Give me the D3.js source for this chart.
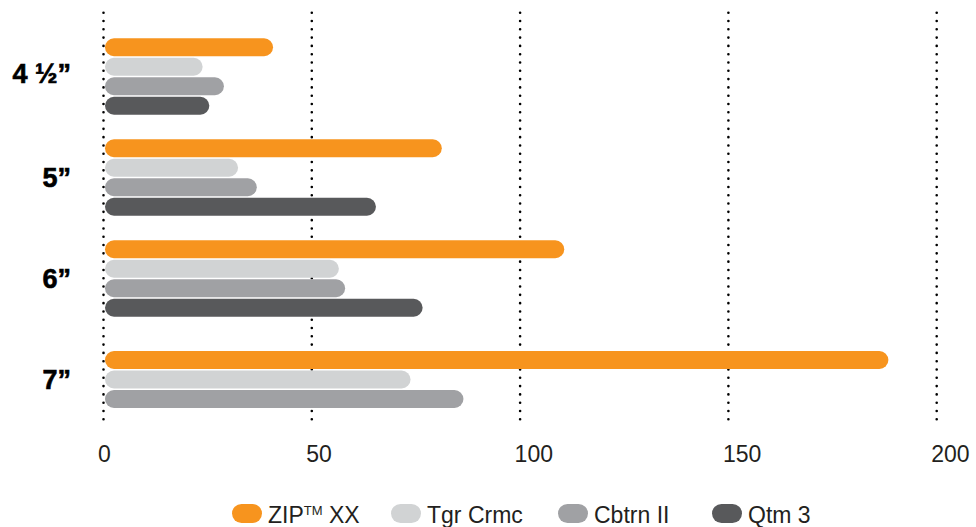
<!DOCTYPE html>
<html>
<head>
<meta charset="utf-8">
<script src="https://cdn.jsdelivr.net/npm/d3@7"></script>
<style>
  html, body { margin: 0; padding: 0; background: #fff; }
  svg { display: block; }
  text { font-family: "Liberation Sans", Arial, Helvetica, sans-serif; }
</style>
</head>
<body>
<svg id="chart" width="976" height="527"></svg>
<script>
// ---- data ----
const categories = ["4 ½”", "5”", "6”", "7”"];
const seriesNames = ["ZIP XX", "Tgr Crmc", "Cbtrn II", "Qtm 3"];
const zipValues   = [40.7, 81.2, 110.6, 188.4];
const tgrValues   = [23.8, 32.3, 56.5, 73.7];
const cbtrnValues = [28.9, 36.8, 58.0, 86.4];
const qtmValues   = [25.4, 65.4, 76.6, null];
const tickValues  = [0, 50, 100, 150, 200];
const colors = ["#F7941E", "#D1D3D4", "#A0A1A4", "#58595B"];

const seriesValues = [zipValues, tgrValues, cbtrnValues, qtmValues];

const svg = d3.select("#chart");

const x = d3.scaleLinear().domain([0, 200]).range([103.5, 936.7]);
const y = d3.scaleBand().domain(categories).range([26, 430]).padding(0);

// grid (dotted)
svg.append("g").selectAll("line")
  .data(tickValues).join("line")
  .attr("x1", d => x(d)).attr("x2", d => x(d))
  .attr("y1", 12.7).attr("y2", 419.5)
  .attr("stroke", "#000")
  .attr("stroke-width", 2.6)
  .attr("stroke-linecap", "round")
  .attr("stroke-dasharray", "0 8.298");

// tick labels
svg.append("g").selectAll("text")
  .data(tickValues).join("text")
  .attr("x", d => x(d) - 5.5)
  .attr("y", 462)
  .attr("font-size", 23)
  .attr("fill", "#231F20")
  .text(d => d);

// bars
const barH = 18, barStep = 19.5;
categories.forEach((cat, ci) => {
  const items = seriesValues.map((vals, si) => ({ v: vals[ci], si }))
    .filter(d => d.v != null);
  const n = items.length;
  const center = y(cat) + y.bandwidth() / 2;
  const top = center - (n * barStep - (barStep - barH)) / 2;
  svg.append("g").selectAll("rect")
    .data(items).join("rect")
    .attr("x", x(0) + 1.5)
    .attr("y", (d, i) => top + i * barStep)
    .attr("width", d => x(d.v) - x(0) - 1.5)
    .attr("height", barH)
    .attr("rx", barH / 2)
    .attr("fill", d => colors[d.si]);
});

// category labels
svg.append("g").selectAll("text")
  .data(categories).join("text")
  .attr("x", 71)
  .attr("y", (d, i) => y(d) + y.bandwidth() / 2 - (i === 0 ? 3 : 0))
  .attr("dy", "0.36em")
  .attr("text-anchor", "end")
  .attr("font-size", 27)
  .attr("font-weight", "bold")
  .attr("fill", "#000")
  .attr("stroke", "#000")
  .attr("stroke-width", 0.6)
  .text(d => d);

// legend
const legendX = [232, 391, 558, 712];
const lg = svg.append("g");
seriesNames.forEach((name, i) => {
  lg.append("rect")
    .attr("x", legendX[i]).attr("y", 504)
    .attr("width", 30).attr("height", 19)
    .attr("rx", 9.5)
    .attr("fill", colors[i]);
  const t = lg.append("text")
    .attr("x", legendX[i] + 36)
    .attr("y", 522.5)
    .attr("font-size", 23)
    .attr("fill", "#231F20");
  if (i === 0) {
    t.append("tspan").text("ZIP");
    t.append("tspan").attr("font-size", 13).attr("dy", -8).text("TM");
    t.append("tspan").attr("dy", 8).text(" XX");
  } else {
    t.text(name);
  }
});
</script>
</body>
</html>
